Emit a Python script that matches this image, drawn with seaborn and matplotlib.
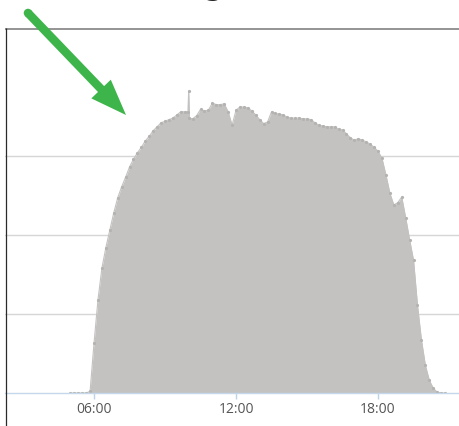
import matplotlib
matplotlib.use("Agg")
import matplotlib.pyplot as plt
from matplotlib.patches import FancyArrow, Circle
import seaborn as sns
import pandas as pd

# ---- data ----
times = ["05:00", "05:10", "05:20", "05:30", "05:40", "05:50",
         "06:00", "06:10", "06:20", "06:30", "06:40", "06:50",
         "07:00", "07:10", "07:20", "07:30", "07:40", "07:50",
         "08:00", "08:10", "08:20", "08:30", "08:40", "08:50",
         "09:00", "09:10", "09:20", "09:30", "09:40", "09:50", "09:58",
         "10:00", "10:02", "10:10", "10:20", "10:30", "10:40", "10:50",
         "11:00", "11:10", "11:20", "11:30", "11:40", "11:50",
         "12:00", "12:10", "12:20", "12:30", "12:40", "12:50",
         "13:00", "13:10", "13:20", "13:30", "13:40", "13:50",
         "14:00", "14:10", "14:20", "14:30", "14:40", "14:50",
         "15:00", "15:10", "15:20", "15:30", "15:40", "15:50",
         "16:00", "16:10", "16:20", "16:30", "16:40", "16:50",
         "17:00", "17:10", "17:20", "17:30", "17:40", "17:50",
         "18:00", "18:10", "18:20", "18:30", "18:40", "18:50",
         "19:00", "19:10", "19:20", "19:30", "19:40", "19:50",
         "20:00", "20:10", "20:20", "20:30", "20:40", "20:50"]
power = [0.00, 0.00, 0.00, 0.00, 0.00, 0.02,
         0.63, 1.18, 1.58, 1.84, 2.06, 2.28,
         2.47, 2.61, 2.73, 2.86, 2.96, 3.04,
         3.11, 3.19, 3.25, 3.32, 3.37, 3.42,
         3.44, 3.46, 3.48, 3.52, 3.56, 3.56, 3.56,
         3.82, 3.48, 3.47, 3.51, 3.59, 3.57, 3.58,
         3.67, 3.65, 3.65, 3.66, 3.56, 3.39,
         3.58, 3.62, 3.62, 3.61, 3.57, 3.52,
         3.46, 3.41, 3.43, 3.56, 3.54, 3.53,
         3.52, 3.49, 3.48, 3.48, 3.48, 3.47,
         3.47, 3.46, 3.42, 3.39, 3.38, 3.37,
         3.37, 3.37, 3.34, 3.33, 3.28, 3.23,
         3.20, 3.22, 3.20, 3.18, 3.15, 3.11,
         3.06, 2.97, 2.76, 2.53, 2.38, 2.41,
         2.48, 2.22, 1.94, 1.68, 1.11, 0.67,
         0.35, 0.16, 0.06, 0.01, 0.00, 0.00]
tick_hours = [6, 12, 18]
tick_labels = ["06:00", "12:00", "18:00"]
grid_values = [1, 2, 3]
title_fragment = "g"

hours = [int(t[:2]) + int(t[3:]) / 60 for t in times]
df = pd.DataFrame({"hour": hours, "power": power})

sns.set_theme(style="white")
plt.rcParams["font.family"] = ["Open Sans", "DejaVu Sans"]

W, H = 459, 426
fig = plt.figure(figsize=(W / 100, H / 100), dpi=100)
fig.patch.set_facecolor("white")

# main axes: left edge x=5, baseline at y=393, top at y=28 (pixels from top)
ax = fig.add_axes([5 / W, (H - 393) / H, 1 - 5 / W, (393 - 28) / H])
ax.set_facecolor("white")

for g in grid_values:
    ax.axhline(g, color="#d6d6d6", lw=1.0, zorder=0)

ax.fill_between(df["hour"], df["power"], 0, color="#c3c2c0", lw=0, zorder=1)
sns.lineplot(data=df, x="hour", y="power", ax=ax, color="#c3c2c0", lw=0.8,
             marker="o", markersize=2.3, markeredgewidth=0,
             markerfacecolor="#b4b3b1", zorder=2, legend=False)

ax.set_xlim(2.239, 21.42)
ax.set_ylim(0, 4.62)
ax.set_xlabel("")
ax.set_ylabel("")
ax.set_yticks([])
ax.set_xticks(tick_hours)
ax.set_xticklabels(tick_labels)
ax.tick_params(axis="x", bottom=True, length=4, width=1, color="#bcd3e8",
               pad=2.5, labelsize=10, labelcolor="#555555")
for s in ["left", "right", "top"]:
    ax.spines[s].set_visible(False)
ax.spines["bottom"].set_color("#c4d8ea")
ax.spines["bottom"].set_linewidth(1.0)

# overlay in pixel coordinates for frame lines and arrow
ov = fig.add_axes([0, 0, 1, 1])
ov.set_xlim(0, W)
ov.set_ylim(H, 0)
ov.axis("off")
ov.patch.set_alpha(0)

ov.plot([5, W], [28.5, 28.5], color="#777777", lw=1.1, solid_capstyle="butt", zorder=1)
ov.plot([5.5, 5.5], [28, H], color="#2a2a2a", lw=0.9, solid_capstyle="butt", zorder=1)

# title mostly above the visible area: only the descender of "g" shows
fig.text(214 / W, 1 + 4.5 / H, title_fragment, fontsize=20, fontweight="bold",
         color="#222222", ha="center", va="baseline", family="DejaVu Sans")

green = "#3db54a"
ov.add_patch(FancyArrow(28, 13, 126 - 28, 115 - 13, width=8.5, head_width=27,
                        head_length=36, length_includes_head=True,
                        color=green, lw=0, zorder=3))
ov.add_patch(Circle((28, 13), 4.25, color=green, lw=0, zorder=3))

fig.savefig("out.png", dpi=100)
